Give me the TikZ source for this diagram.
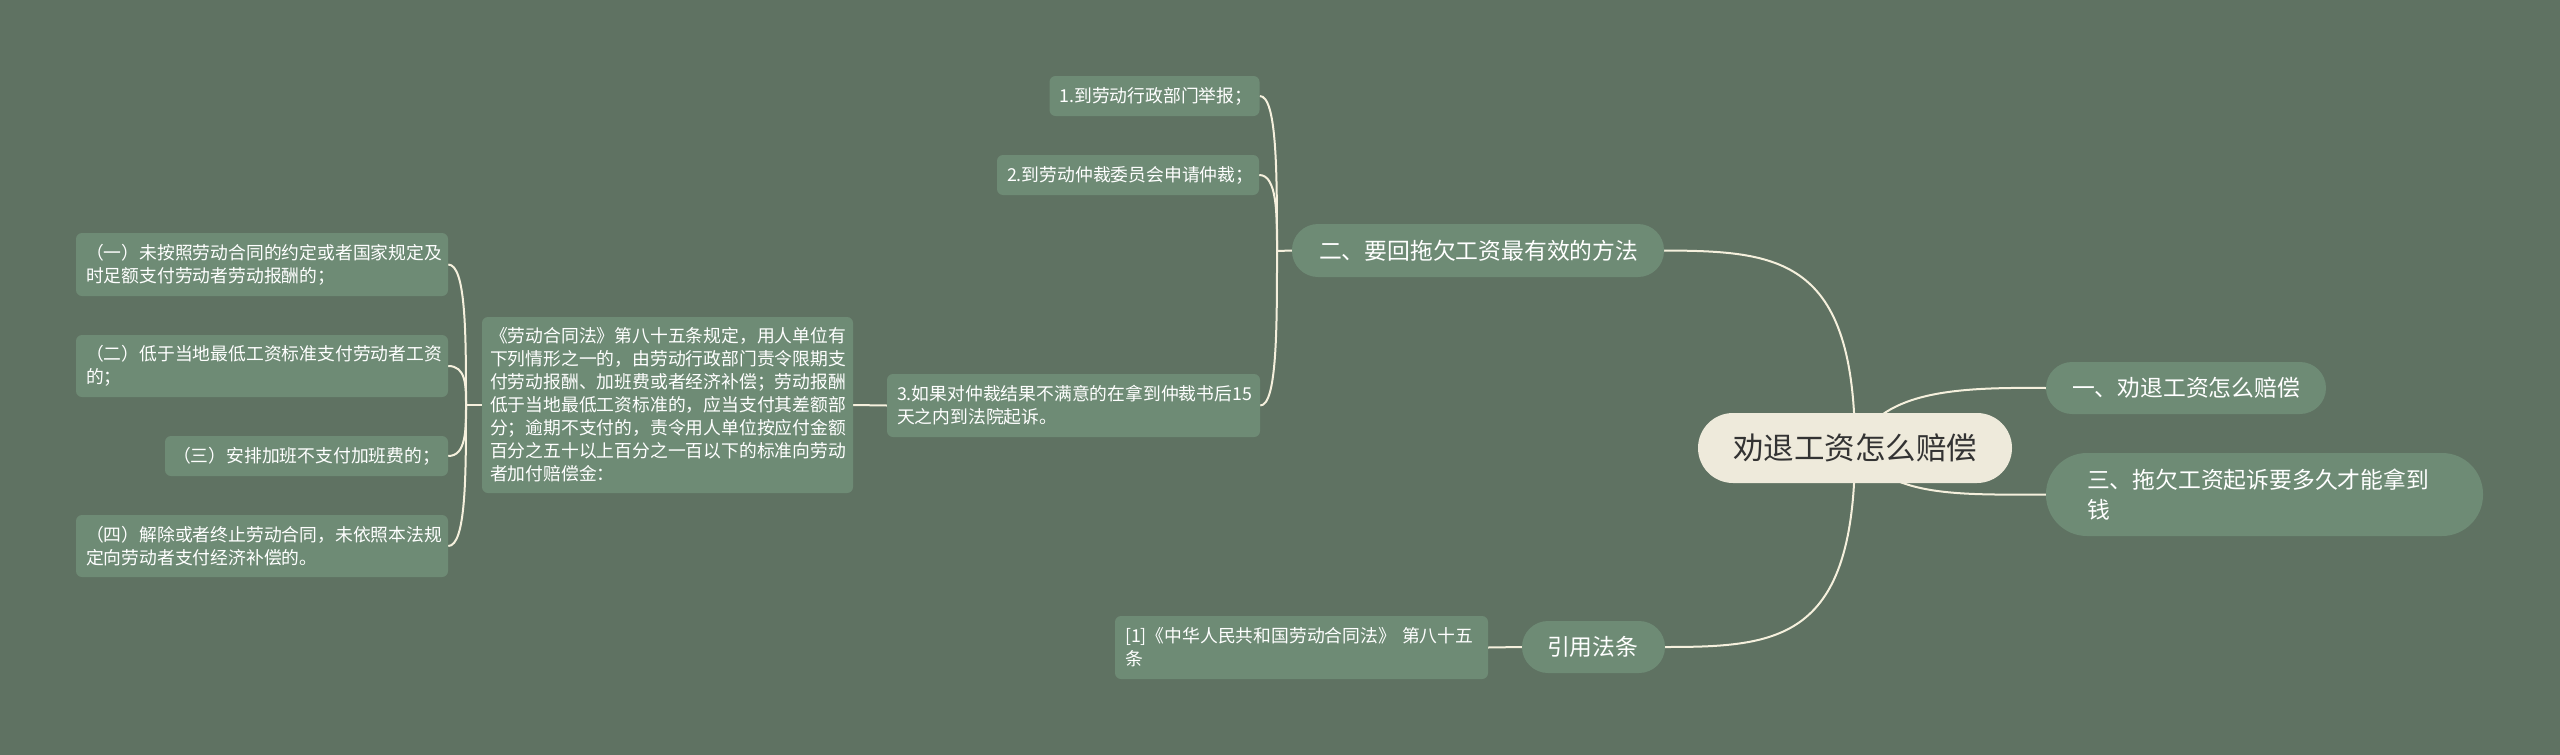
\documentclass[tikz,border=0pt]{standalone}
\usepackage{fontspec}
\setmainfont{Noto Sans CJK SC}
\usetikzlibrary{calc}
\definecolor{bgc}{HTML}{5F7262}
\definecolor{nodec}{HTML}{6E8B75}
\definecolor{rootc}{HTML}{EEEADB}
\definecolor{linec}{HTML}{F5F0DD}
\definecolor{roottxt}{HTML}{333333}
\pgfdeclarelayer{bgl}
\pgfdeclarelayer{edges}
\pgfsetlayers{bgl,edges,main}
\tikzset{
  box/.style={fill=nodec, text=white, inner ysep=0pt, align=left, anchor=center},
  leaf/.style={box, rounded corners=6pt, inner xsep=10pt, font=\fontsize{17.8}{23}\selectfont},
  lvl/.style={box, font=\fontsize{22.8}{30}\selectfont},
  rootbox/.style={fill=rootc, text=roottxt, rounded corners=35pt, minimum width=314pt, minimum height=70pt, font=\fontsize{30.5}{36}\selectfont, inner sep=0pt},
  conn/.style={draw=linec, line width=2pt},
}
\begin{document}
\begin{tikzpicture}[x=1pt,y=-1pt]
\useasboundingbox (0,0) rectangle (2560,755);
\begin{pgfonlayer}{bgl}
\fill[bgc] (0,0) rectangle (2560,755);
\end{pgfonlayer}

% root
\node[rootbox] (root) at (1855,448) {劝退工资怎么赔偿};

% level 1
\node[lvl, rounded corners=26pt, inner xsep=26pt, text width=228pt, minimum height=52pt] (n1) at (2186,388) {一、劝退工资怎么赔偿};
\node[lvl, rounded corners=41pt, inner xsep=41pt, text width=355pt, minimum height=83pt] (n3) at (2264.5,494.5) {三、拖欠工资起诉要多久才能拿到\\钱};
\node[lvl, rounded corners=26pt, inner xsep=27pt, text width=318pt, minimum height=53pt] (n2) at (1478,250.5) {二、要回拖欠工资最有效的方法};
\node[lvl, rounded corners=26pt, inner xsep=25pt, text width=93pt, minimum height=52pt] (n4) at (1593.5,647) {引用法条};

% level 2
\node[leaf, text width=190pt, minimum height=40pt] (p1) at (1154.5,96) {1.到劳动行政部门举报；};
\node[leaf, text width=242pt, minimum height=40pt] (p2) at (1128,175) {2.到劳动仲裁委员会申请仲裁；};
\node[leaf, text width=353pt, minimum height=63pt] (p3) at (1073.5,405.5) {3.如果对仲裁结果不满意的在拿到仲裁书后15\\天之内到法院起诉。};
\node[leaf, text width=353pt, minimum height=63pt] (ref) at (1301.5,647.5) {[1]《中华人民共和国劳动合同法》 第八十五\\条};

% level 3
\node[leaf, inner xsep=8pt, text width=355pt, minimum height=176pt] (law) at (667.5,405) {《劳动合同法》第八十五条规定，用人单位有\\下列情形之一的，由劳动行政部门责令限期支\\付劳动报酬、加班费或者经济补偿；劳动报酬\\低于当地最低工资标准的，应当支付其差额部\\分；逾期不支付的，责令用人单位按应付金额\\百分之五十以上百分之一百以下的标准向劳动\\者加付赔偿金：};

% level 4
\node[leaf, text width=352pt, minimum height=63pt] (c1) at (262,264.5) {（一）未按照劳动合同的约定或者国家规定及\\时足额支付劳动者劳动报酬的；};
\node[leaf, text width=352pt, minimum height=62pt] (c2) at (262,366) {（二）低于当地最低工资标准支付劳动者工资\\的；};
\node[leaf, inner xsep=8pt, text width=267pt, minimum height=40pt] (c3) at (306.5,456) {（三）安排加班不支付加班费的；};
\node[leaf, text width=352pt, minimum height=62pt] (c4) at (262,546) {（四）解除或者终止劳动合同，未依照本法规\\定向劳动者支付经济补偿的。};

\coordinate (J2) at (1277,251);
\coordinate (JL) at (466,405);

\begin{pgfonlayer}{edges}
% root connectors
\draw[conn] (root.center) .. controls (1855,258) and (1780,251) .. (n2.east);
\draw[conn] (root.center) .. controls (1855,640) and (1780,647) .. (n4.east);
\draw[conn] (root.center) .. controls (1880,392) and (1950,387) .. (n1.west);
\draw[conn] (root.center) .. controls (1890,496) and (1950,495) .. (n3.west);
% bracket of n2
\draw[conn] (J2) -- (n2.west);
\foreach \c in {p1,p2,p3}{
  \draw[conn] (\c.east) .. controls (\c.east -| J2) and ($(\c.east -| J2)!0.5!(J2)$) .. (J2);
}
% p3 to law
\draw[conn] (law.east) -- (p3.west);
% bracket of law
\draw[conn] (JL) -- (law.west);
\foreach \c in {c1,c2,c3,c4}{
  \draw[conn] (\c.east) .. controls (\c.east -| JL) and ($(\c.east -| JL)!0.5!(JL)$) .. (JL);
}
% cite
\draw[conn] (ref.east) -- (n4.west);
\end{pgfonlayer}
\end{tikzpicture}
\end{document}
